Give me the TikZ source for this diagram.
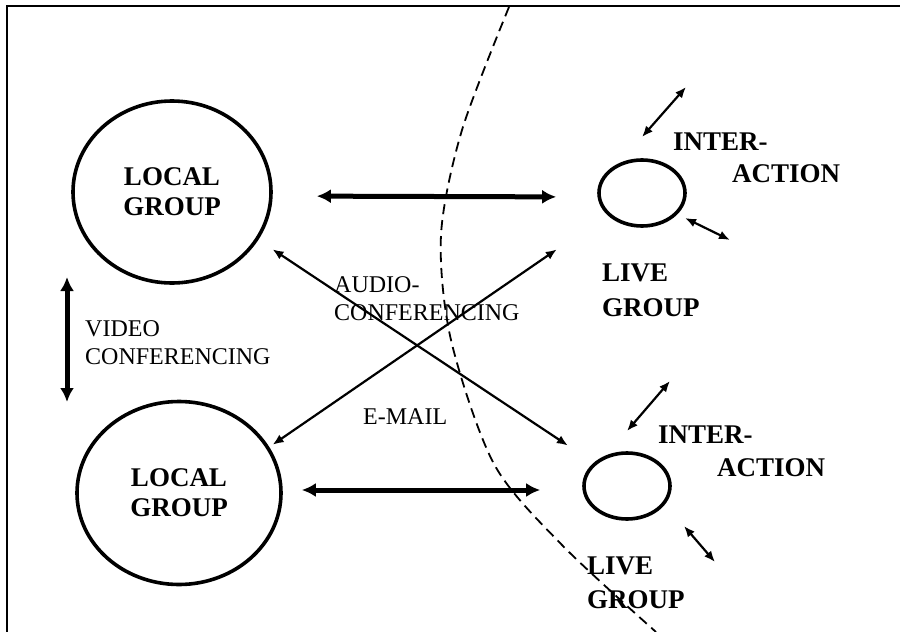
\documentclass[tikz,border=0pt]{standalone}
\usepackage{fontspec}
\setmainfont{Liberation Serif}
\usetikzlibrary{arrows.meta,shapes.geometric}

\begin{document}
\begin{tikzpicture}[x=1pt,y=-1pt,
        grpnode/.style={draw, ellipse, line width=3.6pt, inner sep=0pt, align=center, font=\bfseries\fontsize{27}{30}\selectfont},
        livenode/.style={draw, ellipse, line width=3.6pt, inner sep=0pt, minimum width=86pt, minimum height=66pt},
        bigtext/.style={inner sep=0pt, anchor=west, align=left, font=\bfseries\fontsize{27}{34.5}\selectfont},
        smalltext/.style={inner sep=0pt, anchor=west, align=left, font=\fontsize{24}{28}\selectfont},
        wide/.style={{Latex[length=14pt,width=14pt]}-{Latex[length=14pt,width=14pt]}, line width=5pt},
        talk/.style={{Latex[length=11pt,width=9pt]}-{Latex[length=11pt,width=9pt]}, line width=2.2pt}]
        \useasboundingbox (0,0) rectangle (900,632);
        \draw[line width=2.5pt] (7,632)--(7,6)--(900,6);

        \node[grpnode, minimum width=198pt, minimum height=182pt] (lg1) at (172,192) {LOCAL\\GROUP};
        \node[grpnode, minimum width=204pt, minimum height=183pt] (lg2) at (179,493) {LOCAL\\GROUP};
        \node[livenode] (lv1) at (642,193) {};
        \node[livenode] (lv2) at (627,486) {};

        \draw[dashed, line width=1.8pt, dash pattern=on 10pt off 6pt] plot[smooth] coordinates {(509,7) (462,130) (441,235) (451,340) (494,464) (562,545) (656,632)};

        \draw[wide, shorten <=44pt, shorten >=41pt] ([yshift=-4pt]lg1.east)--([yshift=-4pt]lv1.west);
        \draw[wide, shorten <=19pt, shorten >=42pt] ([yshift=3pt]lg2.east)--([yshift=-4pt]lv2.west);
        \coordinate (vtop) at (67,277);
        \coordinate (vbot) at (67,402);
        \draw[wide] (vtop)--(vbot);

        \draw[talk, shorten <=17pt, shorten >=31pt] (lg1.-29)--(lv2.145);
        \draw[talk, shorten <=4pt, shorten >=61pt] (lg2.27)--(lv1.212.6);

        \coordinate (ia1) at (642,137);
        \coordinate (ib1) at (686,87);
        \coordinate (ia2) at (685,218);
        \coordinate (ib2) at (730,240);
        \coordinate (ia3) at (627,431);
        \coordinate (ib3) at (670,381);
        \coordinate (ia4) at (684,526);
        \coordinate (ib4) at (715,562);
        \draw[talk] (ia1)--(ib1);
        \draw[talk] (ia2)--(ib2);
        \draw[talk] (ia3)--(ib3);
        \draw[talk] (ia4)--(ib4);

        \node[bigtext] (int1) at (673,142) {INTER-};
        \node[bigtext] (act1) at (732,174) {ACTION};
        \node[bigtext] (liv1) at (602,290.5) {LIVE\\GROUP};
        \node[bigtext] (int2) at (658,435) {INTER-};
        \node[bigtext] (act2) at (717,468) {ACTION};
        \node[bigtext] (liv2) at (587,583) {LIVE\\GROUP};
        \node[smalltext] (video) at (85,342.5) {VIDEO\\CONFERENCING};
        \node[smalltext] (audio) at (334,298.5) {AUDIO-\\CONFERENCING};
        \node[smalltext] (mail) at (363,417) {E-MAIL};
    \end{tikzpicture}
\end{document}
